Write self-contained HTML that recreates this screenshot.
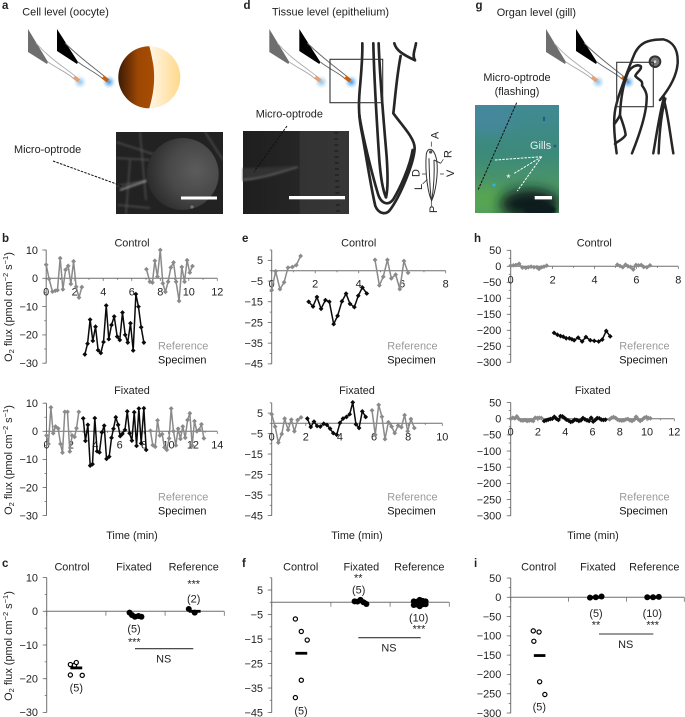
<!DOCTYPE html>
<html>
<head>
<meta charset="utf-8">
<title>Micro-optrode oxygen flux figure</title>
<style>
html,body{margin:0;padding:0;background:#fff;width:685px;height:717px;overflow:hidden}
svg{display:block;font-family:"Liberation Sans",Arial,sans-serif;font-size:10.9px;fill:#222;filter:blur(.3px)}
text{fill:#222}
</style>
</head>
<body>
<svg id="figure" xmlns="http://www.w3.org/2000/svg" width="685" height="717" viewBox="0 0 685 717">
<defs>
  <radialGradient id="glowDark"><stop offset="0" stop-color="#2f8fe0" stop-opacity=".95"/><stop offset=".45" stop-color="#6fb0ee" stop-opacity=".6"/><stop offset="1" stop-color="#bcdcf8" stop-opacity="0"/></radialGradient>
  <radialGradient id="glowLight"><stop offset="0" stop-color="#7fc4ea" stop-opacity=".95"/><stop offset=".45" stop-color="#a8d0f0" stop-opacity=".6"/><stop offset="1" stop-color="#d8e8f8" stop-opacity="0"/></radialGradient>
  <linearGradient id="brown" x1="0" x2="1" y1="0" y2="0"><stop offset="0" stop-color="#3c1a04"/><stop offset=".55" stop-color="#9c4704"/><stop offset="1" stop-color="#a84e04"/></linearGradient>
  <linearGradient id="cream" x1="0" x2="1" y1="0" y2="0"><stop offset="0" stop-color="#fff6e6"/><stop offset="1" stop-color="#ffd98c"/></linearGradient>
  <radialGradient id="sphere" cx=".68" cy=".45" r=".75"><stop offset="0" stop-color="#5c5c5c"/><stop offset=".5" stop-color="#484848"/><stop offset="1" stop-color="#262626"/></radialGradient>
  <linearGradient id="gillBase" x1="0" x2="0" y1="0" y2="1"><stop offset="0" stop-color="#418a94"/><stop offset=".45" stop-color="#3c8a7a"/><stop offset=".72" stop-color="#4a9468"/><stop offset="1" stop-color="#4e9a60"/></linearGradient>
  <linearGradient id="tissueBg" x1="0" x2="1" y1="0" y2="0"><stop offset="0" stop-color="#1e1e1e"/><stop offset=".53" stop-color="#262626"/><stop offset=".54" stop-color="#333"/><stop offset="1" stop-color="#363636"/></linearGradient>
  <filter id="soft" x="-20%" y="-20%" width="140%" height="140%"><feGaussianBlur stdDeviation="1"/></filter>
  <filter id="softer" x="-60%" y="-60%" width="220%" height="220%"><feGaussianBlur stdDeviation="6"/></filter>
  <clipPath id="clipA"><rect x="116" y="132" width="107" height="82"/></clipPath>
  <clipPath id="clipG"><rect x="475" y="105" width="84" height="108"/></clipPath>
  <g id="probeGray">
    <polygon points="0,0 20,33 19,35 0,23" fill="#6e6e6e"/>
    <path d="M8,14 C22,30 36,38 47,47 M20,33 C30,40 40,44 46,50" fill="none" stroke="#aaa" stroke-width=".9"/>
    <circle cx="52" cy="53" r="7" fill="url(#glowLight)"/>
    <line x1="46" y1="48" x2="51" y2="52" stroke="#e2a277" stroke-width="4"/>
  </g>
  <g id="probeBlack">
    <polygon points="0,0 21,33 20,35 0,22" fill="#000"/>
    <path d="M8,14 C22,28 36,38 47,47 M21,33 C30,40 40,44 46,50" fill="none" stroke="#666" stroke-width=".9"/>
    <circle cx="52" cy="53" r="7" fill="url(#glowDark)"/>
    <line x1="46" y1="48" x2="51" y2="52" stroke="#c9600f" stroke-width="4"/>
  </g>
</defs>

<g id="illustrations">
  <g>
    <use href="#probeGray" x="28" y="29"/>
    <use href="#probeBlack" x="57" y="29"/>
    <g>
      <path d="M149.3,46.3 A31,31 0 0 1 149.3,108.3 C154,92 155,80 153.5,66 C152,58 151,52 149.3,46.3Z" fill="url(#cream)"/>
      <path d="M149.3,46.3 A31,31 0 0 0 149.3,108.3 C154,92 155,80 153.5,66 C152,58 151,52 149.3,46.3Z" fill="url(#brown)"/>
    </g>
    <g clip-path="url(#clipA)">
      <rect x="116" y="132" width="107" height="82" fill="#222"/>
      <g filter="url(#soft)" stroke="#6a6a6a" fill="none" stroke-width="1.2" opacity=".75">
        <path d="M116,142 L156,155 M116,158 L150,160 M140,132 L146,200 M116,186 L150,180 M118,205 L150,208 M205,132 L223,160 M130,160 L126,214"/>
      </g>
      <path d="M120,190 L146,181" stroke="#b5b5b5" stroke-width="1.3" fill="none" filter="url(#soft)"/>
      <circle cx="182.7" cy="174" r="36" fill="url(#sphere)"/>
      <circle cx="192" cy="207" r="1.6" fill="#777"/>
    </g>
    <rect x="181" y="196.5" width="36" height="3" fill="#fff"/>
    <line x1="53" y1="161" x2="122" y2="186" stroke="#111" stroke-width="1" stroke-dasharray="2.5 1.2"/>
  </g>

  <g>
    <use href="#probeGray" x="269.3" y="29"/>
    <use href="#probeBlack" x="299.3" y="29"/>
    <g transform="translate(230,0) scale(.3333)" fill="none" stroke="#262626" stroke-width="8" stroke-linejoin="round" stroke-linecap="round">
      <path d="M397,130 C398,170 395,200 391,250 C386,300 384,340 395,395 C405,445 422,560 436,618 C446,642 468,646 480,630 C510,590 552,490 554,445 C555,415 515,375 490,340 C496,290 500,230 512,168"/>
      <path d="M388,345 C396,400 425,520 445,585 C455,612 475,618 490,598 C510,565 540,500 548,450"/>
      <path d="M430,130 C432,220 438,330 448,480 C452,530 458,570 468,592"/>
      <path d="M446,130 C449,230 460,350 470,470 C474,530 474,570 468,592"/>
    </g>
    <g transform="translate(230,0) scale(.3333)" fill="none" stroke="#262626" stroke-width="8" stroke-linecap="round">
      <path d="M493,130 C498,150 515,162 555,181 M558,130 C555,150 546,165 555,181"/>
    </g>
    <rect x="330" y="59.3" width="52.7" height="43.4" fill="none" stroke="#333" stroke-width="1.1"/>
    <g>
      <rect x="243" y="131" width="106" height="83" fill="url(#tissueBg)"/>
      <path d="M243,181 C265,178 280,172 298,166 C280,166 260,168 243,168Z" fill="#303030" filter="url(#soft)"/>
      <path d="M243,180 C265,178 280,172 298,167" stroke="#7a7a7a" stroke-width="1.1" fill="none" filter="url(#soft)"/>
      <path d="M336,132 L338,214" stroke="#262626" stroke-width="4" stroke-dasharray="2 4" fill="none"/>
    </g>
    <rect x="289" y="196" width="56" height="3.3" fill="#fff"/>
    <line x1="287" y1="126" x2="254" y2="172" stroke="#111" stroke-width="1" stroke-dasharray="2.5 1.2"/>
    <g transform="translate(230,0) scale(.3333)" fill="none" stroke="#333" stroke-width="3">
      <path d="M589,462 C594,440 612,442 620,480 C626,520 616,580 605,602 C595,582 584,520 589,462Z" fill="#fff"/>
      <path d="M597,475 C598,520 600,570 604,598 M612,480 C614,520 610,570 606,598 M612,480 L632,490"/>
      <circle cx="602" cy="456" r="5" fill="#555" stroke="none"/>
      <path d="M604,440 L604,425 M632,490 L640,478 M576,522 L588,522 M630,522 L642,522 M578,552 L592,538 M604,602 L604,618" stroke-width="2.2"/>
    </g>
  </g>

  <g>
    <use href="#probeGray" x="546" y="29"/>
    <use href="#probeBlack" x="576" y="29"/>
    <g transform="translate(460,0) scale(.3333)" fill="none" stroke="#262626" stroke-width="7.5" stroke-linejoin="round" stroke-linecap="round">
      <path d="M470,460 C462,400 458,350 470,310 C480,270 500,220 520,170 C535,130 560,118 610,118 C640,125 655,150 653,190 C650,230 625,270 600,300"/>
      <path d="M480,345 C482,300 490,250 505,215 C515,200 530,192 542,198 C548,208 528,218 526,228 C535,240 550,240 546,256 C555,268 562,280 560,295 C560,340 540,400 516,460"/>
      <path d="M465,370 C472,360 478,350 480,345 C488,370 495,385 497,405 C488,420 470,425 465,432"/>
      <path d="M612,292 C600,335 590,400 580,460 M616,296 C604,340 598,400 596,460 M612,300 C625,350 630,400 640,460"/>
      <circle cx="585" cy="185" r="16" fill="#777" stroke="#333" stroke-width="6"/>
      <circle cx="585" cy="185" r="4" fill="#ddd" stroke="none"/>
    </g>
    <rect x="616.7" y="62.3" width="36.6" height="44.4" fill="none" stroke="#333" stroke-width="1.1"/>
    <g clip-path="url(#clipG)">
      <rect x="475" y="105" width="84" height="108" fill="url(#gillBase)"/>
      <ellipse cx="490" cy="118" rx="24" ry="16" fill="#4a86a6" opacity=".6" filter="url(#softer)"/>
      <ellipse cx="485" cy="200" rx="24" ry="14" fill="#5aa850" opacity=".8" filter="url(#softer)"/>
      <ellipse cx="530" cy="204" rx="30" ry="15" fill="#0c1a1c" filter="url(#softer)"/>
      <ellipse cx="540" cy="210" rx="16" ry="6" fill="#0c1a1c" filter="url(#soft)"/>
      <circle cx="494" cy="185" r="1.5" fill="#2db3f0"/>
      <circle cx="544" cy="118" r="1.2" fill="#245a80"/><circle cx="544" cy="120" r="1.2" fill="#245a80"/><circle cx="555" cy="146" r="1.4" fill="#245a80"/>
    </g>
    <line x1="516.7" y1="102.7" x2="478" y2="190" stroke="#111" stroke-width="1" stroke-dasharray="2.5 1.2"/>
    <g stroke="#fff" stroke-width="1" stroke-dasharray="2.5 1.2" fill="none">
      <path d="M541.7,156.7 L495,160 M541.7,156.7 L514.3,173.3 M541.7,156.7 L517.3,191"/>
    </g>
    <text x="508.5" y="178" text-anchor="middle" style="fill:#e8f0e8;font-size:6px">★</text>
    <text x="530" y="149" style="fill:#e4ecea">Gills</text>
    <rect x="534.7" y="196" width="17.3" height="3.4" fill="#fff"/>
  </g>

  <g>
    <text x="22.3" y="15.5">Cell level (oocyte)</text>
    <text x="272" y="15.5">Tissue level (epithelium)</text>
    <text x="496.7" y="16">Organ level (gill)</text>
    <text x="14" y="153">Micro-optrode</text>
    <text x="255.7" y="117.7">Micro-optrode</text>
    <text x="517" y="81" text-anchor="middle">Micro-optrode</text>
    <text x="517" y="95" text-anchor="middle">(flashing)</text>
    <text transform="translate(438.5,139) rotate(-90)">A</text>
    <text transform="translate(451.5,158) rotate(-90)">R</text>
    <text transform="translate(419.5,177) rotate(-90)">D</text>
    <text transform="translate(454,177) rotate(-90)">V</text>
    <text transform="translate(422,190) rotate(-90)">L</text>
    <text transform="translate(437,213) rotate(-90)">P</text>
  </g>
  <g font-weight="bold" font-size="11.5">
    <text x="2" y="9">a</text>
    <text x="2" y="242">b</text>
    <text x="2" y="567">c</text>
    <text x="243.5" y="9">d</text>
    <text x="242" y="242">e</text>
    <text x="242" y="567">f</text>
    <text x="475.5" y="9">g</text>
    <text x="474" y="242">h</text>
    <text x="474" y="567">i</text>
  </g>
</g>
<g id="charts"></g>
</svg>

<script>
// ---------- Panel b ----------
const bXLabelsControl = [0, 2, 4, 6, 8, 10, 12];
const bXLabelsFixated = [0, 2, 4, 6, 8, 10, 12, 14];
const bYLabels = [10, 0, -10, -20, -30];
const bControlRef1T = [0, 0.2, 0.44, 0.63, 0.79, 0.98, 1.17, 1.36, 1.54, 1.73, 1.92, 2.1, 2.3, 2.5];
const bControlRef1V = [4.8, -0.2, -4.7, -4.4, -4.2, 7.1, -3.9, 3, 4.4, -2, 6, -3, -6.8, -3.1];
const bControlRef2T = [7.03, 7.27, 7.45, 7.62, 7.8, 8.0, 8.18, 8.36, 8.55, 8.74, 8.93, 9.11, 9.32, 9.51, 9.7, 9.88, 10.07, 10.26];
const bControlRef2V = [3.2, -1.2, -1.5, 6.2, 0.6, 10, -1.8, -4.8, -1.2, 3.8, 5.6, -1.2, -8, 4, -1.2, 6.4, 2, 4.3];
const bControlSpecT = [2.71, 2.9, 3.08, 3.27, 3.46, 3.64, 3.83, 4.02, 4.21, 4.39, 4.58, 4.77, 4.98, 5.16, 5.35, 5.54, 5.72, 5.91, 6.1, 6.29, 6.47, 6.66, 6.85];
const bControlSpecV = [-26.9, -23.1, -14.6, -22.1, -17.1, -25.4, -26.4, -22.5, -9.6, -21.5, -16.5, -13.5, -20.6, -21.8, -12.1, -20, -22.7, -15.9, -25.5, -5.6, -10, -17.3, -22.7];
const bFixatedRef1T = [0, 0.16, 0.36, 0.55, 0.74, 0.96, 1.15, 1.31, 1.5, 1.72, 1.91, 2.1, 2.3, 2.46, 2.65];
const bFixatedRef1V = [-1.5, -4.5, 8.5, -0.7, 1.7, 1, -4.5, -7.6, 6.9, 6.9, -7.2, -1.5, -2, 1.1, 6.9];
const bFixatedSpecT = [3.01, 3.19, 3.39, 3.58, 3.77, 3.96, 4.15, 4.34, 4.54, 4.73, 4.92, 5.14, 5.33, 5.49, 5.68, 5.87, 6.04, 6.22, 6.43, 6.62, 6.81, 7, 7.19, 7.38, 7.57, 7.76, 7.98, 8.17];
const bFixatedSpecV = [4.6, -3.4, 2.3, -12.2, -11.7, 4.7, -7.1, -7.5, -0.4, 2, -9.8, -9, -2.3, 0.9, 5, 2.3, -1.7, -0.9, 0.5, 7.1, -0.7, -3.3, 6.8, -5.2, 8.1, -4.3, 8.2, -6.6];
const bFixatedRef2T = [8.52, 8.71, 8.91, 9.1, 9.29, 9.48, 9.67, 9.86, 10.05, 10.22, 10.41, 10.6, 10.79, 10.98, 11.17, 11.37, 11.56, 11.75, 11.94, 12.13, 12.32, 12.51, 12.7, 12.9];
const bFixatedRef2V = [0.2, -4.9, -5.5, 3.9, -1.5, -1, -5.7, -6.6, -2.5, 8.1, 0, -5, 0.9, -2.7, 1.7, -2.3, 4, 6.4, -5.1, 3.6, 0, 0.5, 2.5, -2.5];

// ---------- Panel e ----------
const eXLabelsControl = [0, 2, 4, 6, 8];
const eXLabelsFixated = [0, 2, 4, 6, 8, 10];
const eYLabels = [5, -5, -15, -25, -35, -45];
const eControlRef1T = [0, 0.18, 0.38, 0.57, 0.75, 0.95, 1.13, 1.33];
const eControlRef1V = [-9.4, -0.3, -8.9, -5.6, 1.5, 1.8, 2.7, 7.1];
const eControlRef2T = [4.75, 4.95, 5.13, 5.32, 5.5, 5.7, 5.89, 6.08, 6.27];
const eControlRef2V = [5.2, -7.1, -2.9, 5.2, -3.7, -1.9, -8.9, 4.7, -1];
const eControlSpecT = [1.7, 1.9, 2.08, 2.27, 2.47, 2.65, 2.85, 3.03, 3.23, 3.42, 3.6, 3.8, 3.98, 4.17, 4.37];
const eControlSpecV = [-15, -17.3, -12.7, -18.4, -14.2, -15, -25.8, -21.8, -14.8, -11.1, -16, -17.6, -12.1, -8.1, -11];
const eFixatedRef1T = [0, 0.2, 0.39, 0.59, 0.76, 0.96, 1.15, 1.33, 1.52, 1.72];
const eFixatedRef1V = [4.4, -1.6, -9.4, -5.2, 2.3, -3.2, 1.8, -3.9, 1.6, 2.9];
const eFixatedSpecT = [2.09, 2.29, 2.48, 2.66, 2.85, 3.05, 3.24, 3.42, 3.61, 3.81, 4, 4.18, 4.38, 4.57, 4.75, 4.94, 5.12, 5.31, 5.51];
const eFixatedSpecV = [2.3, -1.8, 0.8, -1.3, -1.6, -0.2, -0.8, -2.6, -4.8, -5.6, 0.2, 2.3, 3.1, 4.4, 10.2, -0.5, -2.3, 5.8, 3.1];
const eFixatedRef2T = [5.88, 6.07, 6.27, 6.46, 6.64, 6.84, 7.03, 7.21, 7.41, 7.6, 7.79, 7.97, 8.16, 8.36];
const eFixatedRef2V = [6.3, -5.6, 9, 3.2, -7.7, 0.5, -1.6, -4.8, -1.1, -1.9, 4, -3.9, 2.1, -2.3];

// ---------- Panel h ----------
const hXLabelsControl = [0, 2, 4, 6, 8];
const hXLabelsFixated = [0, 2, 4, 6, 8, 10, 12];
const hYLabels = [50, 0, -50, -100, -150, -200, -250, -300];
const hControlRef1T = [0, 0.13, 0.25, 0.4, 0.56, 0.72, 0.84, 0.97, 1.11, 1.25, 1.35, 1.48, 1.59, 1.72];
const hControlRef1V = [2, 3, 4, 8, -4, -5, -3, -1, -3, -3, -8, -3, -1, 2];
const hControlRef2T = [5.09, 5.22, 5.35, 5.48, 5.6, 5.72, 5.85, 5.98, 6.1, 6.23, 6.35, 6.5, 6.65];
const hControlRef2V = [5, 1, -3, 5, 0, -2, -10, 4, 3, 4, -2, -3, 3];
const hControlSpecT = [2.07, 2.23, 2.38, 2.51, 2.65, 2.8, 2.92, 3.03, 3.22, 3.41, 3.59, 3.8, 3.99, 4.2, 4.37, 4.56, 4.75];
const hControlSpecV = [-208, -214, -218, -220, -225, -225, -228, -231, -223, -235, -221, -231, -233, -235, -229, -202, -219];
const hFixatedRef1T = [0, 0.15, 0.3, 0.45, 0.6, 0.75, 0.9, 1.05, 1.2, 1.35, 1.5, 1.65, 1.8, 1.95, 2.1, 2.25];
const hFixatedRef1V = [0, 3, 1, 7, -1, -5, -6, -4, -7, -6, -5, -7, 3, 2, 3, 2];
const hFixatedSpecT = [2.45, 2.6, 2.75, 2.9, 3.05, 3.2, 3.35, 3.5, 3.65, 3.8, 3.95, 4.1, 4.25, 4.4, 4.55, 4.7, 4.85, 5, 5.15, 5.3, 5.45, 5.6, 5.75, 5.9, 6.05, 6.2, 6.35, 6.5, 6.65, 6.8, 6.95];
const hFixatedSpecV = [-7, -5, -3, -1, 0, 6, 0, -4, 8, 7, 2, -3, -6, -10, -8, -3, -4, -7, -5, 2, -2, -5, -7, 3, -9, -4, 2, 1, -3, -4, -3];
const hFixatedRef2T = [7.25, 7.4, 7.55, 7.7, 7.85, 8, 8.15, 8.3, 8.45, 8.6, 8.75, 8.9, 9.05, 9.2, 9.35, 9.5, 9.65, 9.8, 9.95, 10.1, 10.25];
const hFixatedRef2V = [-2, 3, 5, 2, -3, -5, -6, -5, -2, -1, -5, -7, -3, 6, -2, -7, -3, 3, 5, 2, 1];

// ---------- Summary panels c, f, i ----------
const cYLabels = [10, 0, -10, -20, -30];
const cControlPos = [0.4, 0.47, 0.5, 0.4, 0.6];
const cControlVal = [-15.8, -16, -15.2, -18.9, -19];
const cControlMean = [-16.8];
const cFixatedPos = [1.4, 1.44, 1.49, 1.55, 1.6];
const cFixatedVal = [-0.4, -1.1, -1.6, -1.4, -1.6];
const cFixatedMean = [-1.3];
const cReferencePos = [2.4, 2.5];
const cReferenceVal = [0.7, -0.4];
const cReferenceMean = [0];

const fYLabels = [5, -5, -15, -25, -35, -45];
const fControlPos = [0.4, 0.5, 0.6, 0.5, 0.4];
const fControlVal = [-6.8, -11.9, -15.4, -31.8, -38.9];
const fControlMean = [-20.8];
const fFixatedPos = [1.4, 1.45, 1.5, 1.55, 1.6];
const fFixatedVal = [0.4, 0.3, 1, 0, -0.7];
const fFixatedMean = [0.2];
const fReferencePos = [2.4, 2.4, 2.45, 2.45, 2.5, 2.5, 2.55, 2.55, 2.6, 2.6];
const fReferenceVal = [0.4, -1.1, 0.2, -0.9, 1, -1.6, 0.6, -0.8, 0.4, -0.8];
const fReferenceMean = [-0.3];

const iYLabels = [50, 0, -50, -100, -150, -200, -250, -300];
const iControlPos = [0.39, 0.49, 0.4, 0.5, 0.59];
const iControlVal = [-87, -90, -114, -219, -252];
const iControlMean = [-151];
const iFixatedPos = [1.37, 1.47, 1.57];
const iFixatedVal = [-1, 0, 2];
const iFixatedMean = [0];
const iReferencePos = [2.36, 2.46, 2.56];
const iReferenceVal = [0, 0, 1];
const iReferenceMean = [0];

// ---------- Drawing ----------
const NS = 'http://www.w3.org/2000/svg';
const root = document.getElementById('charts');
const AXIS = '#6f6f6f';

function make(parent, tag, attrs, txt) {
  const el = document.createElementNS(NS, tag);
  for (const k in attrs) el.setAttribute(k, attrs[k]);
  if (txt !== undefined) el.textContent = txt;
  parent.appendChild(el);
  return el;
}
function fmt(v) { return v < 0 ? '\u2212' + Math.abs(v) : String(v); }
function label(parent, name, x, y, str, anchor, fill) {
  const t = make(parent, 'text', {x: x, y: y, 'text-anchor': anchor || 'middle'}, str);
  if (fill) t.style.fill = fill;
  
  
  return t;
}
function yTitle(parent, x, y) {
  const t = make(parent, 'text', {transform: 'translate(' + x + ',' + y + ') rotate(-90)', 'text-anchor': 'middle'});
  
  
  make(t, 'tspan', {}, 'O');
  make(t, 'tspan', {dy: 2, 'font-size': 7.5}, '2');
  make(t, 'tspan', {dy: -2}, ' flux (pmol cm');
  make(t, 'tspan', {dy: -4, 'font-size': 7.5}, '\u22122');
  make(t, 'tspan', {dy: 4}, ' s');
  make(t, 'tspan', {dy: -4, 'font-size': 7.5}, '\u22121');
  make(t, 'tspan', {dy: 4}, ')');
}
function yAxis(g, x0, yFn, top, bottom, minor, labels, tickLabelX) {
  const axis = make(g, 'line', {x1: x0, x2: x0, y1: yFn(top), y2: yFn(bottom), stroke: AXIS, 'stroke-width': 1});
  
  
  for (let v = top; v >= bottom; v -= minor) {
    const tick = make(g, 'line', {x1: x0 - 2, x2: x0, y1: yFn(v), y2: yFn(v), stroke: AXIS, 'stroke-width': .8});
    
    
  }
  labels.forEach(function (v) {
    const tick = make(g, 'line', {x1: x0 - 4, x2: x0, y1: yFn(v), y2: yFn(v), stroke: AXIS, 'stroke-width': .8});
    
    
    label(g, 'y-tick-label', tickLabelX, yFn(v) + 3.8, fmt(v), 'end');
  });
}
function drawSeries(g, name, xFn, yFn, ts, vs, color) {
  const group = make(g, 'g', {});
  
  
  const pts = ts.map(function (t, i) { return xFn(t).toFixed(2) + ',' + yFn(vs[i]).toFixed(2); }).join(' ');
  const line = make(group, 'polyline', {points: pts, fill: 'none', stroke: color, 'stroke-width': 1.5, 'stroke-linejoin': 'round'});
  
  
  ts.forEach(function (t, i) {
    const px = xFn(t), py = yFn(vs[i]), r = 2.4;
    const p = make(group, 'polygon', {points: (px - r) + ',' + py + ' ' + px + ',' + (py - r) + ' ' + (px + r) + ',' + py + ' ' + px + ',' + (py + r), fill: color});
    
    
  });
}
function timeChart(c) {
  const g = make(root, 'g', {});
  
  
  const xMax = c.xLabels[c.xLabels.length - 1];
  const xFn = function (t) { return c.x0 + t * (c.x1 - c.x0) / xMax; };
  const yFn = function (v) { return c.yZero - v * c.yUnit; };
  yAxis(g, c.x0, yFn, c.top, c.bottom, c.minor, c.yLabels, c.labelX);
  const axis = make(g, 'line', {x1: c.x0, x2: c.x1, y1: c.yZero, y2: c.yZero, stroke: AXIS, 'stroke-width': 1});
  
  
  for (let t = 0; t <= xMax; t += 1) {
    const tick = make(g, 'line', {x1: xFn(t), x2: xFn(t), y1: c.yZero, y2: c.yZero + (t % 2 === 0 ? 2.6 : 1.6), stroke: AXIS, 'stroke-width': .8});
    
    
  }
  c.xLabels.forEach(function (t) { label(g, 'x-tick-label', xFn(t), c.yZero + 17, fmt(t)); });
  label(g, 'chart-title', c.titleX, c.titleY, c.title);
  c.series.forEach(function (s) { drawSeries(g, s[0], xFn, yFn, s[1], s[2], s[3]); });
  label(g, 'legend-reference', c.legendX, c.legendY, 'Reference', 'start', '#9a9a9a');
  label(g, 'legend-specimen', c.legendX, c.legendY + 14, 'Specimen', 'start', '#111');
}
function summaryChart(c) {
  const g = make(root, 'g', {});
  
  
  const xFn = function (p) { return c.x0 + p * (c.x1 - c.x0) / 3; };
  const yFn = function (v) { return c.yZero - v * c.yUnit; };
  yAxis(g, c.x0, yFn, c.top, c.bottom, c.minor, c.yLabels, c.labelX);
  const axis = make(g, 'line', {x1: c.x0, x2: c.x1, y1: c.yZero, y2: c.yZero, stroke: AXIS, 'stroke-width': 1});
  
  
  [0, 1, 2, 3].forEach(function (p) {
    const tick = make(g, 'line', {x1: xFn(p), x2: xFn(p), y1: c.yZero, y2: c.yZero + 4.5, stroke: AXIS, 'stroke-width': .8});
    
    
  });
  c.groups.forEach(function (gr, idx) {
    const open = idx === 0;
    gr[0].forEach(function (p, i) {
      const dot = make(g, 'circle', {cx: xFn(p), cy: yFn(gr[1][i]), r: open ? 2.1 : 3, fill: open ? '#fff' : '#000', stroke: '#000', 'stroke-width': open ? 1.2 : 0});
      
      
    });
    const mid = idx + 0.5;
    const bar = make(g, 'line', {x1: xFn(mid - 0.1), x2: xFn(mid + 0.1), y1: yFn(gr[2][0]), y2: yFn(gr[2][0]), stroke: '#000', 'stroke-width': 2.8});
    
    
  });
  c.notes.forEach(function (n) { label(g, 'annotation', n[0], n[1], n[2]); });
  const ns = make(g, 'line', {x1: c.ns[0], x2: c.ns[1], y1: c.ns[2], y2: c.ns[2], stroke: '#333', 'stroke-width': 1.1});
  
  
}

const GRAY = '#8a8a8a', BLACK = '#0a0a0a';

timeChart({name: 'panel-b-control', title: 'Control', titleX: 132, titleY: 246.7, x0: 46.2, x1: 217.3, yZero: 278.3, yUnit: 2.83, top: 10, bottom: -30, minor: 5, labelX: 38, xLabels: bXLabelsControl, yLabels: bYLabels, legendX: 158, legendY: 349.5,
  series: [['reference-segment-1', bControlRef1T, bControlRef1V, GRAY], ['reference-segment-2', bControlRef2T, bControlRef2V, GRAY], ['specimen-segment', bControlSpecT, bControlSpecV, BLACK]]});
timeChart({name: 'panel-b-fixated', title: 'Fixated', titleX: 132, titleY: 394, x0: 46.5, x1: 217.3, yZero: 431.3, yUnit: 2.81, top: 10, bottom: -30, minor: 5, labelX: 38, xLabels: bXLabelsFixated, yLabels: bYLabels, legendX: 158, legendY: 500.7,
  series: [['reference-segment-1', bFixatedRef1T, bFixatedRef1V, GRAY], ['reference-segment-2', bFixatedRef2T, bFixatedRef2V, GRAY], ['specimen-segment', bFixatedSpecT, bFixatedSpecV, BLACK]]});
timeChart({name: 'panel-e-control', title: 'Control', titleX: 358.7, titleY: 246.7, x0: 271.7, x1: 445.7, yZero: 270.7, yUnit: 2.07, top: 10, bottom: -45, minor: 5, labelX: 263, xLabels: eXLabelsControl, yLabels: eYLabels, legendX: 387.3, legendY: 349.5,
  series: [['reference-segment-1', eControlRef1T, eControlRef1V, GRAY], ['reference-segment-2', eControlRef2T, eControlRef2V, GRAY], ['specimen-segment', eControlSpecT, eControlSpecV, BLACK]]});
timeChart({name: 'panel-e-fixated', title: 'Fixated', titleX: 357, titleY: 394, x0: 271.7, x1: 442.3, yZero: 423.3, yUnit: 2.05, top: 10, bottom: -45, minor: 5, labelX: 263, xLabels: eXLabelsFixated, yLabels: eYLabels, legendX: 387.3, legendY: 500.7,
  series: [['reference-segment-1', eFixatedRef1T, eFixatedRef1V, GRAY], ['reference-segment-2', eFixatedRef2T, eFixatedRef2V, GRAY], ['specimen-segment', eFixatedSpecT, eFixatedSpecV, BLACK]]});
timeChart({name: 'panel-h-control', title: 'Control', titleX: 594.3, titleY: 246.7, x0: 510.7, x1: 678.3, yZero: 266.3, yUnit: 0.32, top: 50, bottom: -300, minor: 25, labelX: 501.3, xLabels: hXLabelsControl, yLabels: hYLabels, legendX: 619.3, legendY: 349.5,
  series: [['reference-segment-1', hControlRef1T, hControlRef1V, GRAY], ['reference-segment-2', hControlRef2T, hControlRef2V, GRAY], ['specimen-segment', hControlSpecT, hControlSpecV, BLACK]]});
timeChart({name: 'panel-h-fixated', title: 'Fixated', titleX: 592.7, titleY: 394, x0: 510.7, x1: 674.3, yZero: 418.7, yUnit: 0.3235, top: 50, bottom: -300, minor: 25, labelX: 501.3, xLabels: hXLabelsFixated, yLabels: hYLabels, legendX: 619.3, legendY: 500.7,
  series: [['reference-segment-1', hFixatedRef1T, hFixatedRef1V, GRAY], ['reference-segment-2', hFixatedRef2T, hFixatedRef2V, GRAY], ['specimen-segment', hFixatedSpecT, hFixatedSpecV, BLACK]]});

yTitle(root, 12, 307);
yTitle(root, 12, 460);
yTitle(root, 12, 646);
label(root, 'x-axis-title-b', 132, 539, 'Time (min)');
label(root, 'x-axis-title-e', 357, 539, 'Time (min)');
label(root, 'x-axis-title-h', 593, 539, 'Time (min)');

summaryChart({name: 'panel-c-summary', x0: 46.7, x1: 224.3, yZero: 611.3, yUnit: 3.37, top: 10, bottom: -30, minor: 5, labelX: 38, yLabels: cYLabels,
  groups: [[cControlPos, cControlVal, cControlMean], [cFixatedPos, cFixatedVal, cFixatedMean], [cReferencePos, cReferenceVal, cReferenceMean]],
  ns: [135, 193.3, 648.7],
  notes: [[72, 570.7, 'Control'], [134, 570.7, 'Fixated'], [193.7, 570.7, 'Reference'], [76.3, 691.7, '(5)'], [134, 632.7, '(5)'], [134.3, 645.7, '***'], [163.7, 662.7, 'NS'], [193.7, 587.7, '***'], [193.7, 602.7, '(2)']]});
summaryChart({name: 'panel-f-summary', x0: 271.7, x1: 449.3, yZero: 602.3, yUnit: 2.45, top: 10, bottom: -45, minor: 5, labelX: 263, yLabels: fYLabels,
  groups: [[fControlPos, fControlVal, fControlMean], [fFixatedPos, fFixatedVal, fFixatedMean], [fReferencePos, fReferenceVal, fReferenceMean]],
  ns: [358.3, 420.7, 637.7],
  notes: [[300.7, 570.7, 'Control'], [361.3, 570.7, 'Fixated'], [419.3, 570.7, 'Reference'], [358.3, 581.5, '**'], [358.7, 593.7, '(5)'], [418.7, 621.3, '(10)'], [419, 632.5, '***'], [389, 651.7, 'NS'], [301, 714.7, '(5)']]});
summaryChart({name: 'panel-i-summary', x0: 510.7, x1: 684.3, yZero: 597.3, yUnit: 0.3857, top: 50, bottom: -300, minor: 25, labelX: 501.3, yLabels: iYLabels,
  groups: [[iControlPos, iControlVal, iControlMean], [iFixatedPos, iFixatedVal, iFixatedMean], [iReferencePos, iReferenceVal, iReferenceMean]],
  ns: [599, 653.3, 634],
  notes: [[538.7, 570.7, 'Control'], [598, 570.7, 'Fixated'], [654.3, 570.7, 'Reference'], [596, 617, '(5)'], [652.3, 617, '(10)'], [596, 628.5, '**'], [652.7, 628.5, '***'], [625.7, 648, 'NS'], [539.3, 710.7, '(5)']]});
</script>
</body>
</html>
